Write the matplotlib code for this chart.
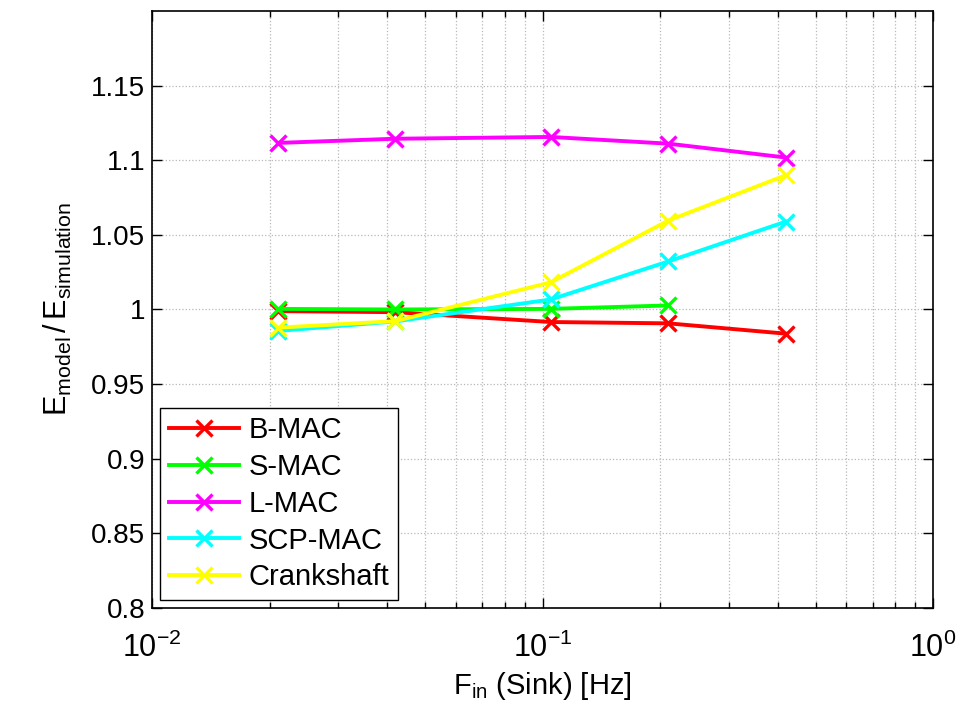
import math
import matplotlib
matplotlib.use("Agg")
import matplotlib.pyplot as plt
from matplotlib.ticker import LogLocator, FixedLocator, FuncFormatter, NullFormatter

plt.rcParams['font.family'] = ['Liberation Sans', 'DejaVu Sans']
plt.rcParams['mathtext.fontset'] = 'custom'
plt.rcParams['mathtext.rm'] = 'Liberation Sans'
plt.rcParams['mathtext.it'] = 'Liberation Sans'

# Data
freq = [0.021, 0.042, 0.105, 0.21, 0.42]
bmac = [0.9989, 0.9982, 0.9916, 0.9907, 0.9838]
smac_freq = [0.021, 0.042, 0.105, 0.21]
smac = [1.0004, 1.0000, 1.0004, 1.0027]
lmac = [1.1116, 1.1144, 1.1156, 1.1111, 1.1018]
scpmac = [0.9856, 0.9920, 1.0067, 1.0322, 1.0589]
crank = [0.9878, 0.9922, 1.0182, 1.0596, 1.0900]
labels = ['B-MAC', 'S-MAC', 'L-MAC', 'SCP-MAC', 'Crankshaft']
colors = ['#ff0000', '#00ff00', '#ff00ff', '#00ffff', '#ffff00']
yticks = [0.8, 0.85, 0.9, 0.95, 1.0, 1.05, 1.1, 1.15]
ytick_labels = ['0.8', '0.85', '0.9', '0.95', '1', '1.05', '1.1', '1.15']

fig = plt.figure(figsize=(9.71, 7.09), dpi=100)
ax = fig.add_axes([0.1565, 0.1425, 0.8045, 0.842])

series = [(freq, bmac), (smac_freq, smac), (freq, lmac), (freq, scpmac), (freq, crank)]
for (xs, ys), lab, c in zip(series, labels, colors):
    ax.plot(xs, ys, color=c, lw=2.8, marker='x', ms=12, mew=2.4, label=lab)

ax.set_xscale('log')
ax.set_xlim(1e-2, 1e0)
ax.set_ylim(0.8, 1.2)
ax.set_yticks(yticks)
ax.set_yticklabels(ytick_labels)
ax.xaxis.set_major_locator(FixedLocator([1e-2, 1e-1, 1e0]))
ax.xaxis.set_major_formatter(FuncFormatter(lambda v, p: r'$\mathregular{10^{%d}}$' % round(math.log10(v))))
ax.xaxis.set_minor_locator(LogLocator(base=10, subs=range(2, 10)))
ax.xaxis.set_minor_formatter(NullFormatter())

ax.grid(True, which='major', axis='both', ls=':', color='#b8b8b8', lw=0.9)
ax.grid(True, which='minor', axis='x', ls=':', color='#b8b8b8', lw=0.9)

ax.tick_params(which='both', direction='in', top=True, right=True, width=1.0)
ax.tick_params(axis='y', labelsize=20, pad=5)
ax.tick_params(axis='x', labelsize=22, pad=18)
ax.tick_params(which='major', length=7)
ax.tick_params(which='minor', length=4)
for s in ax.spines.values():
    s.set_linewidth(1.2)

ax.set_xlabel(r'$\mathregular{F_{in}}$ (Sink) [Hz]', fontsize=21, labelpad=4)
ax.set_ylabel(r'$\mathregular{E_{model}\,/\,E_{simulation}}$', fontsize=22, labelpad=12)

leg = ax.legend(loc='lower left', bbox_to_anchor=(0.01, 0.013), fontsize=21,
                frameon=True, fancybox=False, edgecolor='black', framealpha=1,
                handlelength=2.4, labelspacing=0.3, borderpad=0.3, handletextpad=0.35,
                borderaxespad=0)
leg.get_frame().set_linewidth(1.0)

fig.savefig('out.png', dpi=100)
